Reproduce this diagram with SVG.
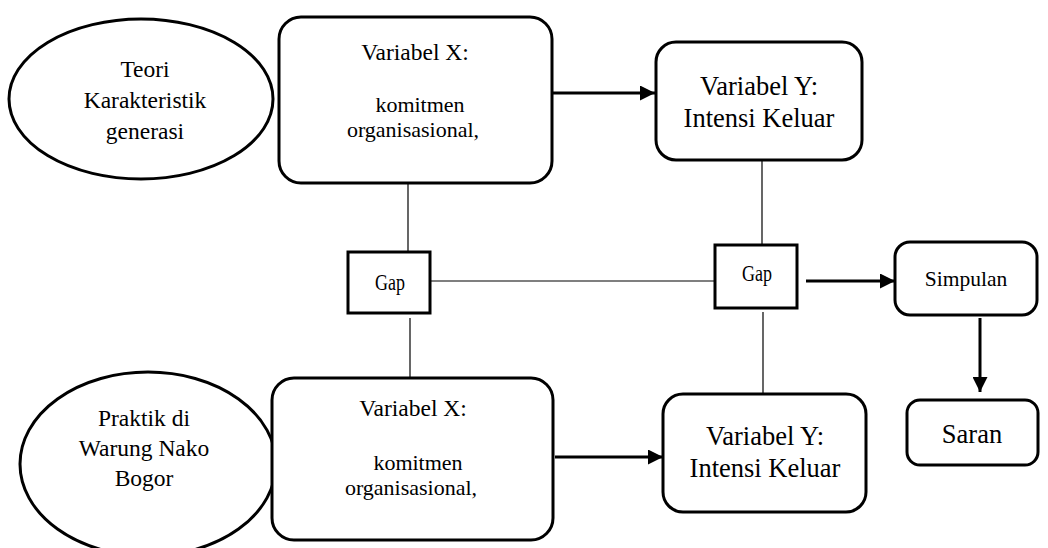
<svg xmlns="http://www.w3.org/2000/svg" width="1048" height="548" viewBox="0 0 1048 548">
<defs>
<style>
.sh{fill:#fff;stroke:#000;stroke-width:3}
text{font-family:'Liberation Serif','Times New Roman',Times,serif;fill:#000;text-anchor:middle}
.f23{font-size:23.5px}
.f22{font-size:22px}
.f26{font-size:26.5px}
.fg{font-size:18px}
.fs{font-size:21.5px}
.thin{stroke:#000;stroke-width:1.2;fill:none}
.arr{stroke:#000;stroke-width:3;fill:none;marker-end:url(#ah)}
</style>
<marker id="ah" viewBox="0 0 10 10" refX="10" refY="5" markerWidth="5" markerHeight="5" orient="auto" markerUnits="strokeWidth">
<path d="M0,0L10,5L0,10z" fill="#000"/>
</marker>
</defs>
<rect width="1048" height="548" fill="#fff"/>
<g id="connectors">
<line class="thin" x1="408" y1="183" x2="408" y2="252"/>
<line class="thin" x1="762" y1="160" x2="762" y2="245"/>
<line class="thin" x1="430" y1="281" x2="715" y2="281"/>
<line class="thin" x1="410" y1="318" x2="410" y2="383"/>
<line class="thin" x1="763" y1="312" x2="763" y2="394"/>
<line class="arr" x1="552" y1="93" x2="655" y2="93"/>
<line class="arr" x1="555" y1="457" x2="663" y2="457"/>
<line class="arr" x1="806" y1="281" x2="895" y2="281"/>
<line class="arr" x1="980" y1="318" x2="980" y2="392"/>
</g>
<g id="teori">
<ellipse class="sh" cx="141" cy="99" rx="132" ry="80"/>
<text class="f23" x="145" y="77">Teori</text>
<text class="f23" x="145" y="108">Karakteristik</text>
<text class="f23" x="145" y="139">generasi</text>
</g>
<g id="varx-top">
<rect class="sh" x="279" y="17" width="273" height="166" rx="22"/>
<text class="f23" x="415" y="60">Variabel X:</text>
<text class="f22" x="420" y="112">komitmen</text>
<text class="f22" x="413" y="137">organisasional,</text>
</g>
<g id="vary-top">
<rect class="sh" x="656" y="42" width="206" height="118" rx="20"/>
<text class="f26" x="759" y="95">Variabel Y:</text>
<text class="f26" x="759" y="127">Intensi Keluar</text>
</g>
<g id="gap1">
<rect class="sh" x="348" y="252" width="82" height="61" stroke-width="2.5"/>
<text class="fg" transform="translate(390,290) scale(1,1.3)">Gap</text>
</g>
<g id="gap2">
<rect class="sh" x="715" y="245" width="82" height="63" stroke-width="2.5"/>
<text class="fg" transform="translate(757,281) scale(1,1.3)">Gap</text>
</g>
<g id="simpulan">
<rect class="sh" x="895" y="242" width="142" height="73" rx="15"/>
<text class="fs" x="966" y="286">Simpulan</text>
</g>
<g id="saran">
<rect class="sh" x="907" y="400" width="131" height="65" rx="13"/>
<text class="f26" x="972" y="443">Saran</text>
</g>
<g id="praktik">
<ellipse class="sh" cx="148" cy="464" rx="128" ry="92"/>
<text class="f23" x="144" y="426">Praktik di</text>
<text class="f23" x="144" y="456">Warung Nako</text>
<text class="f23" x="144" y="486">Bogor</text>
</g>
<g id="varx-bot">
<rect class="sh" x="272" y="378" width="281" height="162" rx="22"/>
<text class="f23" x="413" y="416">Variabel X:</text>
<text class="f22" x="418" y="470">komitmen</text>
<text class="f22" x="411" y="495">organisasional,</text>
</g>
<g id="vary-bot">
<rect class="sh" x="663" y="394" width="203" height="118" rx="20"/>
<text class="f26" x="765" y="445">Variabel Y:</text>
<text class="f26" x="765" y="477">Intensi Keluar</text>
</g>
</svg>
